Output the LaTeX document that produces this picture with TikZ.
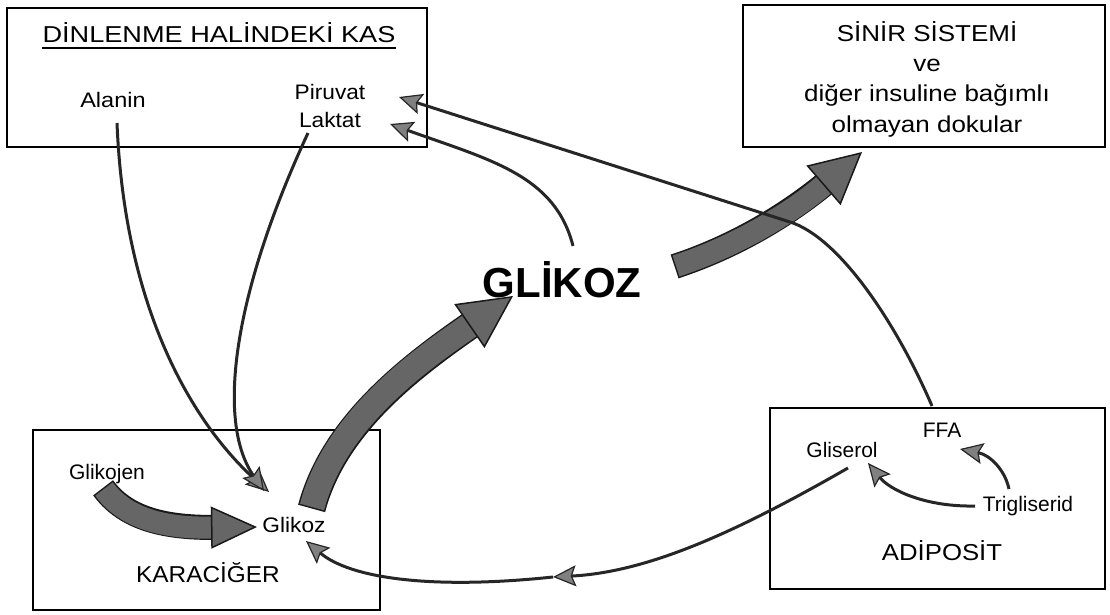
\documentclass[tikz,border=0pt]{standalone}
\usepackage{fontspec}
\setmainfont{Liberation Sans}
\usetikzlibrary{arrows.meta}

\begin{document}
\begin{tikzpicture}[x=1pt,y=-1pt,
  box/.style={draw=black, line width=1.8pt, inner sep=0pt},
  lbl/.style={inner sep=0pt, anchor=base, font=\fontsize{21}{25}\selectfont},
  ttl/.style={inner sep=0pt, anchor=base, font=\fontsize{23}{27}\selectfont},
  thin/.style={draw=black!85, line width=3pt,
    -{Stealth[length=23pt 0 0,width=21pt 0 0,inset=4pt 0 0,line width'=1.2pt,color=black!85,fill=black!50]}},
  plain/.style={draw=black!85, line width=3pt},
  fatedge/.style={draw=black!90, line width=#1, shorten <=-1.5pt, shorten >=34pt},
  fatbody/.style={draw=black!60, line width=#1}
]
\useasboundingbox (0,0) rectangle (1110,615);

% compartments
\node[box, minimum width=420pt, minimum height=139pt] (kas) at (217,77.5) {};
\node[box, minimum width=362pt, minimum height=142pt] (sinir) at (924,76) {};
\node[box, minimum width=347pt, minimum height=180pt] (karaciger) at (206.5,520) {};
\node[box, minimum width=335pt, minimum height=181pt] (adiposit) at (937.5,498.5) {};

% titles
\node[ttl, xscale=1.18] (kasT) at (219,43) {DİNLENME HALİNDEKİ KAS};
\draw[line width=1.2pt] ([yshift=-5pt]kasT.base west) -- ([yshift=-5pt]kasT.base east);
\node[ttl, xscale=1.13] (s1) at (927,42) {SİNİR SİSTEMİ};
\node[ttl, xscale=1.13] (s2) at (927,72) {ve};
\node[ttl, xscale=1.13] (s3) at (927,102) {diğer insuline bağımlı};
\node[ttl, xscale=1.13] (s4) at (927,132) {olmayan dokular};
\node[ttl, xscale=1.06] (karT) at (208,582) {KARACİĞER};
\node[ttl, xscale=1.12] (adiT) at (942,560) {ADİPOSİT};

% metabolites
\node[lbl, xscale=1.12] (alanin) at (113,108) {Alanin};
\node[lbl, xscale=1.08] (piruvat) at (330,100) {Piruvat};
\node[lbl, xscale=1.08] (laktat) at (330,128) {Laktat};
\node[lbl] (glikojen) at (107,479) {Glikojen};
\node[lbl, xscale=1.08] (glikozL) at (294,532) {Glikoz};
\node[lbl] (ffa) at (942,437) {FFA};
\node[lbl] (gliserol) at (842,457) {Gliserol};
\node[lbl] (trigliserid) at (1028,511) {Trigliserid};
\node[inner sep=0pt, anchor=base, font=\bfseries\fontsize{42}{48}\selectfont] (glikoz) at (562,297) {GLİKOZ};

% connector ends
\coordinate (alaninOut) at (117,123);
\coordinate (laktatOut) at (308,133);
\coordinate (glikozIn) at (269,492);
\coordinate (glikozIn2) at (264,491);
\coordinate (glikojenOut) at (104,489);
\coordinate (glikozHead) at (257,527);
\coordinate (glikozLOut) at (312,507);
\coordinate (glikozBigIn) at (513,296);
\coordinate (glikozBigOut) at (676,266);
\coordinate (sinirIn) at (862,152);
\coordinate (glikozTop) at (573,246);
\coordinate (laktatIn) at (390,124);
\coordinate (ffaOut) at (932,406);
\coordinate (ffaBend) at (790,222);
\coordinate (piruvatIn) at (399,97);
\coordinate (gliserolOut) at (848,468);
\coordinate (gliserolMid) at (553,577);
\coordinate (glikozLIn) at (306,541);
\coordinate (triOutL) at (975,506);
\coordinate (gliserolIn) at (868,463);
\coordinate (triOutU) at (1009,489);
\coordinate (ffaIn) at (960,449);

% broad flux arrows
\draw[fatedge=25pt] (glikojenOut) .. controls (130,525) and (180,528) .. (glikozHead);
\draw[fatbody=22pt, -{Triangle[length=46pt 0 0,width=42pt 0 0,line width'=1.5pt,color=black!90,fill=black!60]}]
  (glikojenOut) .. controls (130,525) and (180,528) .. (glikozHead);

\draw[fatedge=28pt, shorten >=38pt] (glikozLOut) .. controls (335,420) and (420,360) .. (glikozBigIn);
\draw[fatbody=25pt, -{Triangle[length=53pt 0 0,width=53pt 0 0,line width'=1.5pt,color=black!90,fill=black!60]}]
  (glikozLOut) .. controls (335,420) and (420,360) .. (glikozBigIn);

\draw[fatedge=25pt, shorten >=36pt] (glikozBigOut) .. controls (740,245) and (795,210) .. (sinirIn);
\draw[fatbody=22pt, -{Triangle[length=51pt 0 0,width=52pt 0 0,line width'=1.5pt,color=black!90,fill=black!60]}]
  (glikozBigOut) .. controls (740,245) and (795,210) .. (sinirIn);

% thin pathways
\draw[thin] (alaninOut) .. controls (125,320) and (200,430) .. (glikozIn);
\draw[thin] (laktatOut) .. controls (235,290) and (215,420) .. (glikozIn2);
\draw[thin] (glikozTop) .. controls (555,175) and (490,160) .. (laktatIn);
\draw[plain] (ffaOut) .. controls (895,320) and (838,237) .. (ffaBend);
\draw[thin] (ffaBend) -- (piruvatIn);
\draw[thin] (gliserolOut) .. controls (740,530) and (650,572) .. (gliserolMid);
\draw[thin] (gliserolMid) .. controls (430,590) and (350,578) .. (glikozLIn);
\draw[thin] (triOutL) .. controls (925,507) and (890,490) .. (gliserolIn);
\draw[thin] (triOutU) .. controls (1005,470) and (990,455) .. (ffaIn);
\end{tikzpicture}
\end{document}
